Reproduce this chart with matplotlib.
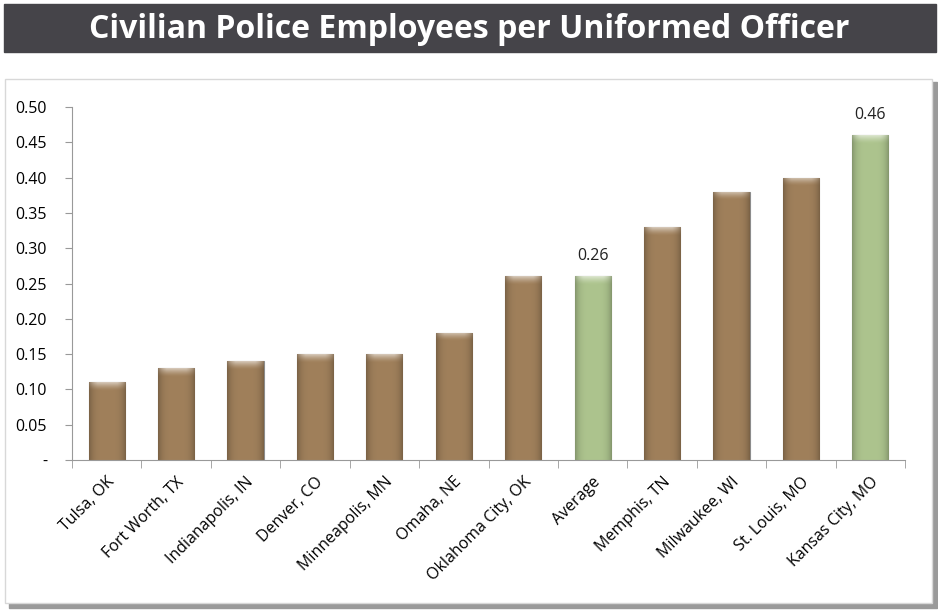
import matplotlib
matplotlib.use("Agg")
import matplotlib.pyplot as plt
import numpy as np
from matplotlib.colors import to_rgb
from matplotlib.patches import Rectangle

plt.rcParams['font.family'] = ['Open Sans', 'DejaVu Sans']

cities = ['Tulsa, OK', 'Fort Worth, TX', 'Indianapolis, IN', 'Denver, CO',
          'Minneapolis, MN', 'Omaha, NE', 'Oklahoma City, OK', 'Average',
          'Memphis, TN', 'Milwaukee, WI', 'St. Louis, MO', 'Kansas City, MO']
ratios = [0.11, 0.13, 0.14, 0.15, 0.15, 0.18, 0.26, 0.26, 0.33, 0.38, 0.40, 0.46]
highlight = ['Average', 'Kansas City, MO']
yticks = [0, 0.05, 0.10, 0.15, 0.20, 0.25, 0.30, 0.35, 0.40, 0.45, 0.50]

brown = '#a0805b'
green = '#adc48e'

W, H = 938, 610
fig = plt.figure(figsize=(W / 100, H / 100), dpi=100)

# title banner
fig.patches.append(Rectangle((4 / W, 1 - 52 / H), 932 / W, 48 / H,
                             transform=fig.transFigure, color='#454449', zorder=-2))
fig.text(0.5, 1 - 29 / H, 'Civilian Police Employees per Uniformed Officer',
         ha='center', va='center', color='white', fontsize=23, fontweight='bold')

# chart frame with drop shadow
fig.patches.append(Rectangle((9 / W, 1 - 608 / H), 928 / W, 526 / H,
                             transform=fig.transFigure, color='#9a9a9a', zorder=-2))
fig.patches.append(Rectangle((5 / W, 1 - 603 / H), 927 / W, 524 / H,
                             transform=fig.transFigure, facecolor='white',
                             edgecolor='#d8d8d8', lw=1, zorder=-1))

ax = fig.add_axes([72 / W, 1 - 460 / H, 833 / W, 353 / H])
ax.patch.set_alpha(0)

x = np.arange(len(cities))
colors = [green if c in highlight else brown for c in cities]
bars = ax.bar(x, ratios, width=0.52, color=colors, edgecolor='#8c8c8c',
              linewidth=0.8, zorder=2)


def bevel(base, height_px, width_px=36):
    # shaded fill: darker at the sides, light rim along the top
    rgb = np.array(to_rgb(base))
    u = np.linspace(-1, 1, width_px)
    side = 1.0 - 0.22 * np.abs(u) ** 4
    img = np.ones((height_px, width_px, 3)) * rgb * side[None, :, None]
    cap = min(8, height_px)
    for r in range(cap):
        k = 0.55 * (1 - r / cap) ** 1.5
        img[r] = img[r] + (1 - img[r]) * k * np.clip(1.3 - np.abs(u) ** 2, 0, 1)[:, None]
    return np.clip(img, 0, 1)


for b, col in zip(bars, colors):
    h = b.get_height()
    im = ax.imshow(bevel(col, max(int(h * 706), 2)), aspect='auto',
                   extent=(b.get_x(), b.get_x() + b.get_width(), 0, h),
                   interpolation='bilinear', zorder=2.5)
    im.set_clip_path(b)

for i, (c, v) in enumerate(zip(cities, ratios)):
    if c in highlight:
        ax.annotate(f'{v:.2f}', (i, v), xytext=(0, 9), textcoords='offset points',
                    ha='center', va='bottom', fontsize=11.5, color='#222222')

ax.set_xlim(-0.5, len(cities) - 0.5)
ax.set_ylim(0, 0.5)
ax.set_yticks(yticks)
ax.set_yticklabels(['-'] + [f'{t:.2f}' for t in yticks[1:]])

ax.set_xticks(x)
ax.set_xticklabels(cities, rotation=45, ha='right', rotation_mode='anchor', fontsize=11.5)
ax.set_xticks([i - 0.5 for i in range(len(cities) + 1)], minor=True)
ax.tick_params(axis='x', which='major', length=0, pad=10)
ax.tick_params(axis='x', which='minor', length=6, color='#999999', direction='out')
ax.tick_params(axis='y', length=5, color='#999999', labelsize=11.5, pad=13)

for side in ['top', 'right']:
    ax.spines[side].set_visible(False)
for side in ['left', 'bottom']:
    ax.spines[side].set_color('#999999')
    ax.spines[side].set_zorder(3)

fig.savefig('out.png', dpi=100)
